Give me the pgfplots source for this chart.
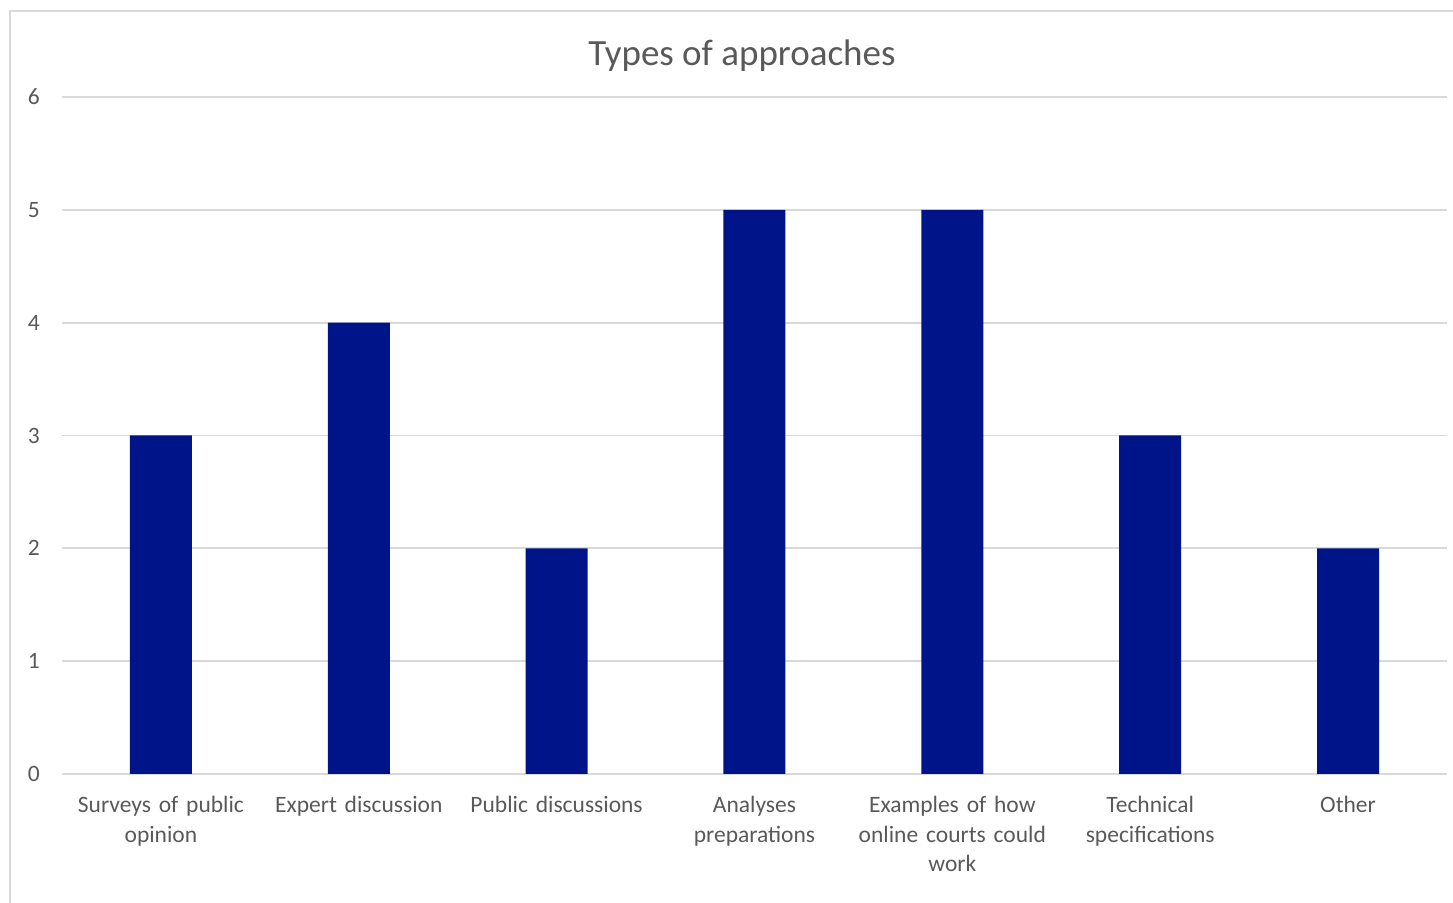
\documentclass[border=0pt]{standalone}
\usepackage{pgfplots}
\pgfplotsset{compat=1.18}
\usepackage{fontspec}
\setmainfont{Carlito}
\definecolor{txt}{HTML}{595959}
\definecolor{gridc}{HTML}{D9D9D9}
\definecolor{barc}{HTML}{001489}
\begin{document}
\begin{tikzpicture}
\useasboundingbox (0,0) rectangle (1453bp,903bp);
\draw[gridc, line width=1.5bp] (10bp,-10bp) -- (10bp,892bp) -- (1470bp,892bp);
\node[txt, font=\fontsize{37bp}{44bp}\selectfont] at (742bp,847bp) {Types of approaches};
\begin{axis}[
  at={(62bp,129bp)}, anchor=south west,
  scale only axis, width=1385bp, height=677bp,
  xmin=-0.5, xmax=6.5, ymin=0, ymax=6,
  ytick={0,1,2,3,4,5,6},
  xtick={0,1,2,3,4,5,6},
  xticklabels={{Surveys of public\\opinion},{Expert discussion},{Public discussions},{Analyses\\preparations},{Examples of how\\online courts could\\work},{Technical\\specifications},{Other}},
  major tick length=0pt,
  axis line style={draw=none},
  ymajorgrids, grid style={gridc, line width=1.8bp},
  /pgf/number format/assume math mode=true,
  tick label style={txt, font=\fontsize{23.5bp}{29.5bp}\selectfont},
  yticklabel style={anchor=east, inner sep=0pt, xshift=-22bp},
  xticklabel style={anchor=north, inner sep=0pt, yshift=-22bp, text width=210bp, align=center},
  ybar, bar width=62bp,
]
\addplot[fill=barc, draw=none] coordinates {(0,3) (1,4) (2,2) (3,5) (4,5) (5,3) (6,2)};
\end{axis}
\end{tikzpicture}
\end{document}
